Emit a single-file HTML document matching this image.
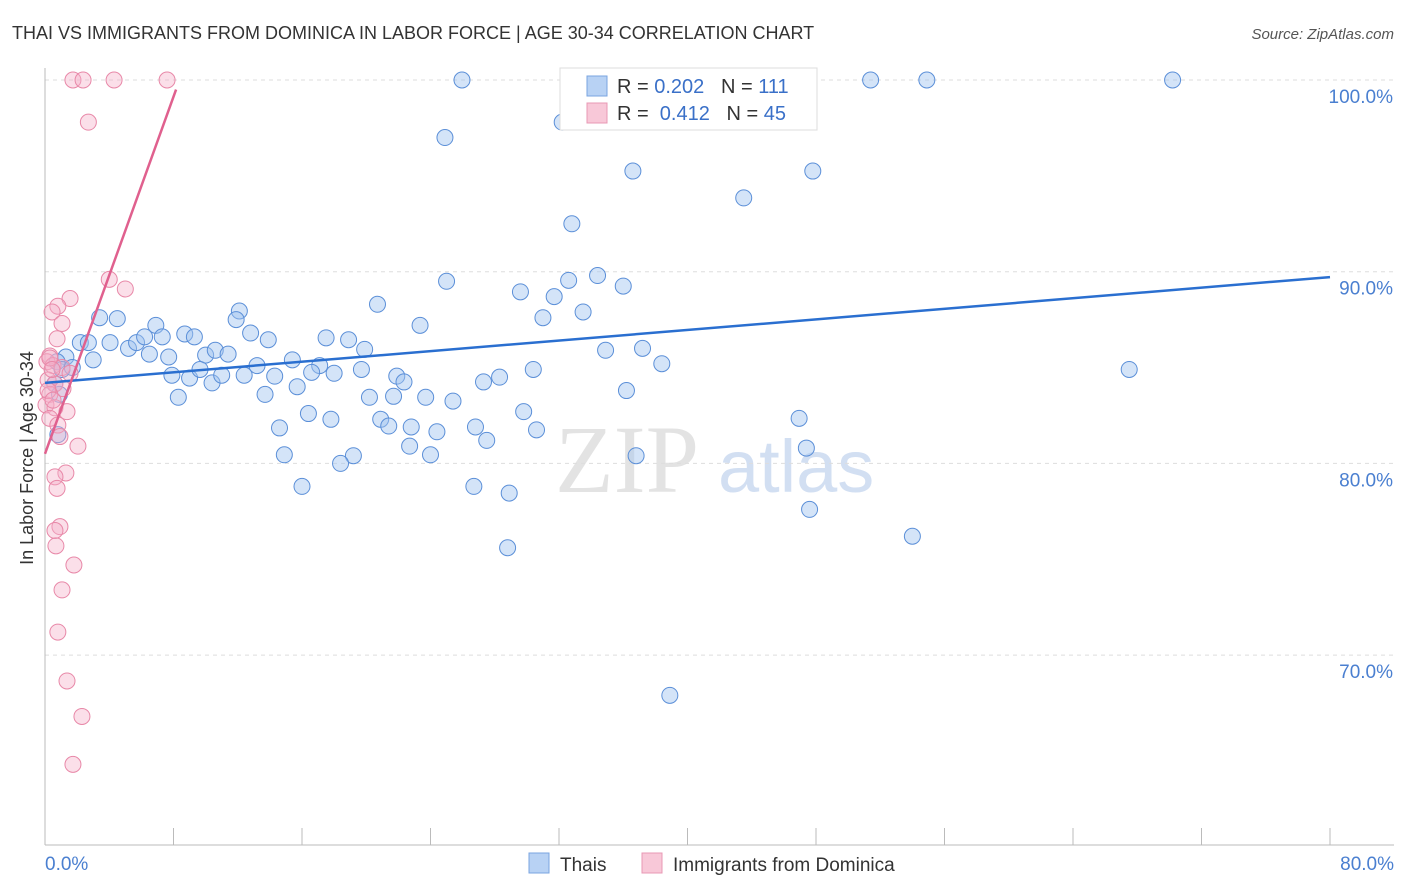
<!DOCTYPE html>
<html><head><meta charset="utf-8">
<style>
body{margin:0;background:#fff;font-family:"Liberation Sans",sans-serif;}
svg{display:block}
</style></head>
<body>
<svg id="chart" width="1406" height="892" xmlns="http://www.w3.org/2000/svg">
<text x="12" y="39" font-size="18" fill="#333">THAI VS IMMIGRANTS FROM DOMINICA IN LABOR FORCE | AGE 30-34 CORRELATION CHART</text>
<text x="1394" y="39" font-size="15" fill="#555" font-style="italic" text-anchor="end">Source: ZipAtlas.com</text>
<text x="33" y="458" font-size="18" fill="#333" text-anchor="middle" transform="rotate(-90 33 458)">In Labor Force | Age 30-34</text>
<g>
<text x="555" y="492" font-size="96" fill="#ddd" font-family="Liberation Serif,serif" opacity="0.8">ZIP</text>
<text x="718" y="492" font-size="74" fill="#c8d8f0" opacity="0.8">atlas</text>
</g>
<g id="grid"></g>
<g id="pts"></g>
<g id="trends"></g>
<g>
<rect x="560" y="68" width="257" height="62" fill="#fff" stroke="#ddd"/>
<rect x="587" y="76" width="20" height="20" fill="#b8d2f4" stroke="#7aa4e0"/>
<rect x="587" y="103" width="20" height="20" fill="#f8c8d8" stroke="#e898b4"/>
<text x="617" y="93" font-size="20" fill="#333">R = <tspan fill="#3a70c8">0.202</tspan>&#160;&#160;&#160;N = <tspan fill="#3a70c8">111</tspan></text>
<text x="617" y="120" font-size="20" fill="#333">R = &#160;<tspan fill="#3a70c8">0.412</tspan>&#160;&#160;&#160;N = <tspan fill="#3a70c8">45</tspan></text>
</g>
<g>
<rect x="529" y="853" width="20" height="20" fill="#b8d2f4" stroke="#7aa4e0"/>
<text x="560" y="871" font-size="19" fill="#333">Thais</text>
<rect x="642" y="853" width="20" height="20" fill="#f8c8d8" stroke="#e898b4"/>
<text x="673" y="871" font-size="19" fill="#333">Immigrants from Dominica</text>
</g>
</svg>
<script>
const yTicks=[100,90,80,70];
const yTickLabels=["100.0%","90.0%","80.0%","70.0%"];
const xTicks=[0,8,16,24,32,40,48,56,64,72,80];
const xEndLabels=["0.0%","80.0%"];
const thaiX=[25.96,41.6,51.4,54.9,70.2,24.9,32.2,36.6,47.8,43.5,32.8,25.0,32.6,34.4,36.0,29.6,31.7,20.7,31.0,33.5,23.35,12.1,11.9,3.4,4.5,6.9,8.7,9.3,12.8,13.9,17.5,18.9,19.9,34.9,37.2,38.4,67.5,4.05,2.2,2.7,5.2,5.7,6.2,7.3,6.5,7.7,10.0,10.6,11.4,1.3,3.0,0.75,1.06,1.7,13.2,15.4,17.1,18.0,19.7,21.9,22.35,28.3,27.3,30.4,7.9,9.0,9.65,10.4,11.0,12.4,14.3,15.7,16.6,8.3,13.7,20.2,21.7,23.7,25.4,36.2,16.4,17.8,20.9,21.4,22.8,24.4,26.8,27.5,29.8,30.6,14.6,22.7,24.0,14.9,19.2,18.4,36.8,46.95,47.4,16.0,26.7,28.9,47.6,54.0,28.8,38.9,0.6,0.9,0.8];
const thaiY=[100,100,100,100,100,97.0,97.8,95.25,95.25,93.85,92.5,89.5,89.55,89.8,89.25,88.95,88.7,88.3,87.6,87.9,87.2,87.95,87.5,87.6,87.55,87.2,86.75,86.6,86.8,86.45,86.55,86.45,85.95,85.9,86.0,85.2,84.9,86.3,86.3,86.3,86.0,86.3,86.6,86.6,85.7,85.55,85.65,85.9,85.7,85.55,85.4,85.3,84.9,85.0,85.1,85.4,85.1,84.7,84.9,84.55,84.25,84.5,84.25,84.9,84.6,84.45,84.9,84.2,84.6,84.6,84.55,84.0,84.75,83.45,83.6,83.45,83.5,83.45,83.25,83.8,82.6,82.3,82.3,81.95,81.9,81.65,81.9,81.2,82.7,81.75,81.85,80.9,80.45,80.45,80.4,80.0,80.4,82.35,80.8,78.8,78.8,78.45,77.6,76.2,75.6,67.9,84.15,83.6,81.5];
const domX=[1.74,2.37,4.3,7.6,2.7,4.0,5.0,1.56,0.8,0.44,1.06,0.75,0.3,0.12,0.5,1.06,1.56,0.19,0.62,1.12,0.3,0.06,0.62,1.37,0.3,0.8,0.93,2.05,1.3,0.62,0.75,0.93,0.62,0.68,1.8,1.06,0.8,1.37,2.3,1.74,0.3,0.44,0.19,0.5];
const domY=[100,100,100,100,97.8,89.6,89.1,88.6,88.2,87.9,87.3,86.5,85.6,85.3,85.1,85.0,84.7,84.35,84.15,83.9,83.6,83.05,82.9,82.7,82.35,82.0,81.4,80.9,79.5,79.3,78.7,76.7,76.5,75.7,74.7,73.4,71.2,68.65,66.8,64.3,85.5,84.9,83.8,83.3];
const thaiTrend=[[0,84.2],[80,89.72]];
const domTrend=[[0,80.5],[8.16,99.5]];

const NS="http://www.w3.org/2000/svg";
const X=v=>45+v/80*1285;
const Y=v=>80+(100-v)*19.17;
function mk(tag,attrs,parent){const e=document.createElementNS(NS,tag);for(const k in attrs)e.setAttribute(k,attrs[k]);parent.appendChild(e);return e;}
const grid=document.getElementById('grid');
yTicks.forEach((t,i)=>{
  const l=mk('line',{x1:45,x2:1394,y1:Y(t),y2:Y(t),stroke:'#ddd','stroke-dasharray':'4,4'},grid);
  
  
  const tx=mk('text',{x:1393,y:Y(t)+23,'font-size':19,fill:'#4a7fd0','text-anchor':'end'},grid);
  tx.textContent=yTickLabels[i];
  
  
});
const ax=mk('line',{x1:45,x2:45,y1:68,y2:845,stroke:'#bbb'},grid);


const bx=mk('line',{x1:45,x2:1394,y1:845,y2:845,stroke:'#bbb'},grid);


xTicks.forEach(t=>{
  const l=mk('line',{x1:X(t),x2:X(t),y1:828,y2:845,stroke:'#bbb'},grid);
  
  
});
[[0,'start',45],[80,'end',1394]].forEach((d,i)=>{
  const tx=mk('text',{x:d[2],y:870,'font-size':19,fill:'#4a7fd0','text-anchor':d[1]},grid);
  tx.textContent=xEndLabels[i];
  
  
});
const pts=document.getElementById('pts');
thaiX.forEach((x,i)=>{
  const c=mk('circle',{cx:X(x),cy:Y(thaiY[i]),r:8,fill:'rgba(160,196,240,0.45)',stroke:'#5b8fd8','stroke-width':1},pts);
  
  
});
domX.forEach((x,i)=>{
  const c=mk('circle',{cx:X(x),cy:Y(domY[i]),r:8,fill:'rgba(244,176,200,0.4)',stroke:'#e888a8','stroke-width':1},pts);
  
  
});
const tr=document.getElementById('trends');
const t1=mk('line',{x1:X(thaiTrend[0][0]),y1:Y(thaiTrend[0][1]),x2:X(thaiTrend[1][0]),y2:Y(thaiTrend[1][1]),stroke:'#2a6fd0','stroke-width':2.5},tr);


const t2=mk('line',{x1:X(domTrend[0][0]),y1:Y(domTrend[0][1]),x2:X(domTrend[1][0]),y2:Y(domTrend[1][1]),stroke:'#e0608e','stroke-width':2.5},tr);


</script>
</body></html>
